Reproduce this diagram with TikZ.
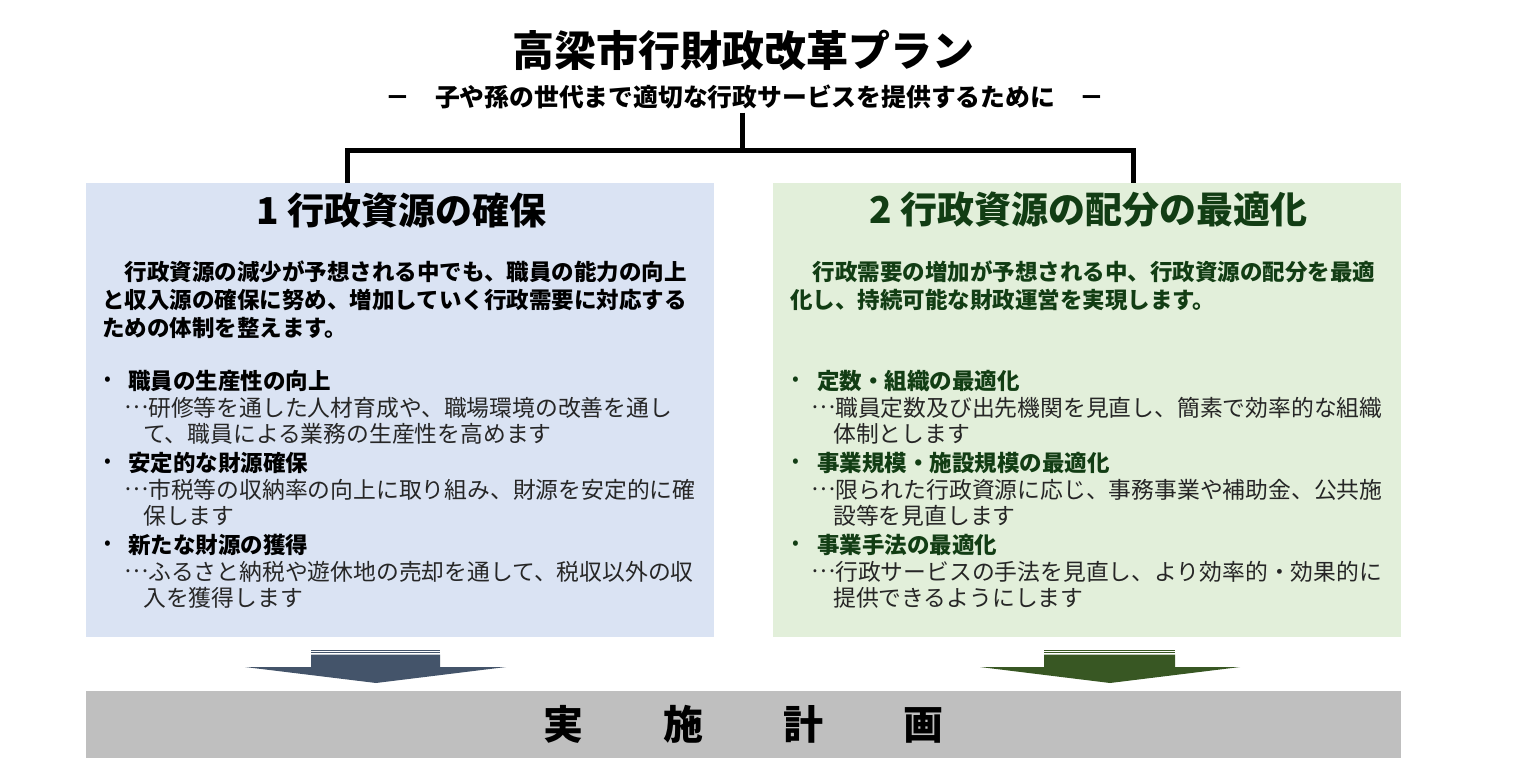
\documentclass[tikz,border=0pt]{standalone}
\usepackage{fontspec}
\usepackage{xcolor}
\setmainfont{Noto Sans CJK JP}
\usetikzlibrary{positioning}

\definecolor{paneblue}{HTML}{DAE3F3}
\definecolor{panegreen}{HTML}{E2EFDA}
\definecolor{arrowblue}{HTML}{44546A}
\definecolor{arrowgreen}{HTML}{385723}
\definecolor{darkgreen}{HTML}{123D14}
\definecolor{bargray}{HTML}{BFBFBF}
\definecolor{inkgray}{HTML}{262626}

% centred ellipsis
\newcommand{\midell}{\raisebox{0.33em}[0pt][0pt]{…}}

\tikzset{
  pane/.style={anchor=north west,inner sep=0pt,minimum width=628pt,minimum height=454pt},
  head/.style={inner sep=0pt,font=\fontsize{37}{40}\selectfont\bfseries},
  intro/.style={anchor=west,inner sep=0pt,font=\fontsize{22.5}{28}\selectfont\bfseries},
  item/.style={anchor=west,inner sep=0pt,font=\fontsize{22.5}{27}\selectfont\bfseries},
  desc/.style={anchor=west,inner sep=0pt,text=inkgray,font=\fontsize{22.8}{27}\selectfont},
  dot/.style={anchor=west,inner sep=0pt,font=\fontsize{20}{27}\selectfont},
  tree/.style={line width=5pt},
}

\begin{document}
\begin{tikzpicture}[x=1pt,y=-1pt]
\useasboundingbox (0,0) rectangle (1526,782);

% title
\node[font=\fontsize{42}{46}\selectfont\bfseries] (title) at (743,50) {高梁市行財政改革プラン};
\node[font=\fontsize{24.8}{28}\selectfont\bfseries] (sub) at (745,97) {－　子や孫の世代まで適切な行政サービスを提供するために　－};

% tree
\coordinate (fork) at (742,150);
\coordinate (ldrop) at (347,184);
\coordinate (rdrop) at (1133,184);
\draw[tree] (fork |- sub.south) -- (fork);
\draw[tree] (ldrop) |- (fork) -| (rdrop);

% panes
\node[pane,fill=paneblue] (lpane) at (86,183) {};
\node[pane,fill=panegreen] (rpane) at (773,183) {};

% 1 left
\node[head] (lhead) at (401,210) {1 行政資源の確保};

\node[intro] (l1) at (102,272) {　行政資源の減少が予想される中でも、職員の能力の向上};
\node[intro] (l2) at (102,300) {と収入源の確保に努め、増加していく行政需要に対応する};
\node[intro] (l3) at (102,328) {ための体制を整えます。};

\node[dot] (lb1) at (104,381) {•};
\node[item] (li1) at (128,381) {職員の生産性の向上};
\node[desc] (ld1a) at (124,407.5) {\midell 研修等を通した人材育成や、職場環境の改善を通し};
\node[desc] (ld1b) at (143,434) {て、職員による業務の生産性を高めます};

\node[dot] (lb2) at (104,463) {•};
\node[item] (li2) at (128,463) {安定的な財源確保};
\node[desc] (ld2a) at (124,489.5) {\midell 市税等の収納率の向上に取り組み、財源を安定的に確};
\node[desc] (ld2b) at (143,516) {保します};

\node[dot] (lb3) at (104,545) {•};
\node[item] (li3) at (128,545) {新たな財源の獲得};
\node[desc] (ld3a) at (124,571.5) {\midell ふるさと納税や遊休地の売却を通して、税収以外の収};
\node[desc] (ld3b) at (143,598) {入を獲得します};

% 2 right
\node[head,text=darkgreen] (rhead) at (1088,210) {2 行政資源の配分の最適化};

\node[intro,text=darkgreen] (r1) at (790,272) {　行政需要の増加が予想される中、行政資源の配分を最適};
\node[intro,text=darkgreen] (r2) at (790,300) {化し、持続可能な財政運営を実現します。};

\node[dot,text=darkgreen] (rb1) at (792,381) {•};
\node[item,text=darkgreen] (ri1) at (817,381) {定数・組織の最適化};
\node[desc] (rd1a) at (811,407.5) {\midell 職員定数及び出先機関を見直し、簡素で効率的な組織};
\node[desc] (rd1b) at (833,434) {体制とします};

\node[dot,text=darkgreen] (rb2) at (792,463) {•};
\node[item,text=darkgreen] (ri2) at (817,463) {事業規模・施設規模の最適化};
\node[desc] (rd2a) at (811,489.5) {\midell 限られた行政資源に応じ、事務事業や補助金、公共施};
\node[desc] (rd2b) at (833,516) {設等を見直します};

\node[dot,text=darkgreen] (rb3) at (792,545) {•};
\node[item,text=darkgreen] (ri3) at (817,545) {事業手法の最適化};
\node[desc] (rd3a) at (811,571.5) {\midell 行政サービスの手法を見直し、より効率的・効果的に};
\node[desc] (rd3b) at (833,598) {提供できるようにします};

% block arrows
\fill[arrowblue] (311,649.5) rectangle (440,650.6);
\fill[arrowblue] (311,652) rectangle (440,653.3);
\fill[arrowblue] (311,654.5) -- (440,654.5) -- (440,667) -- (506,667)
  -- (376,683) -- (245,667) -- (311,667) -- cycle;

\fill[arrowgreen] (1044,649.5) rectangle (1175,650.6);
\fill[arrowgreen] (1044,652) rectangle (1175,653.3);
\fill[arrowgreen] (1044,654.5) -- (1175,654.5) -- (1175,667) -- (1240,667)
  -- (1110,683) -- (980,667) -- (1044,667) -- cycle;

% bar
\node[fill=bargray,minimum width=1315pt,minimum height=67pt,inner sep=0pt,
  font=\fontsize{40}{44}\selectfont\bfseries] (plan) at (743.5,724.5) {実　　施　　計　　画};

\end{tikzpicture}
\end{document}
